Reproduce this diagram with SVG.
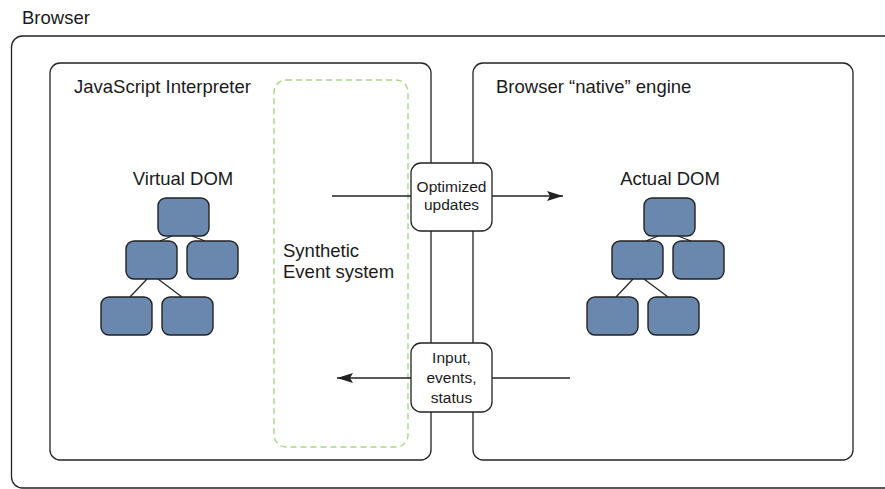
<svg xmlns="http://www.w3.org/2000/svg" width="885" height="489" viewBox="0 0 885 489">
<defs>
<style>
.box{fill:#fff;stroke:#222;stroke-width:1.3}
.dash{fill:none;stroke:#a6d785;stroke-width:1.4;stroke-dasharray:6 4}
.node{fill:#6a88ae;stroke:#222;stroke-width:1.4}
.edge{stroke:#222;stroke-width:1.2;fill:none}
.conn{stroke:#222;stroke-width:1.3;fill:none}
.t{font-family:"Liberation Sans",Arial,sans-serif;font-size:18.5px;fill:#1a1a1a}
.s{font-family:"Liberation Sans",Arial,sans-serif;font-size:15.5px;fill:#1a1a1a;text-anchor:middle}
</style>
<marker id="ah" viewBox="0 0 16 10" refX="16" refY="5" markerWidth="16" markerHeight="10" markerUnits="userSpaceOnUse" orient="auto">
<path d="M0,0 L16,5 L0,10 L3,5 Z" fill="#222"/>
</marker>
<g id="tree">
<path class="edge" d="M172,236 L160,241 M192,236 L205,241 M147,279 L130,297 M158,279 L182,297"/>
<rect class="node" x="158" y="198" width="51" height="38" rx="8"/>
<rect class="node" x="126" y="241" width="51" height="38" rx="8"/>
<rect class="node" x="187" y="241" width="51" height="38" rx="8"/>
<rect class="node" x="101" y="297" width="51" height="38" rx="8"/>
<rect class="node" x="162" y="297" width="51" height="38" rx="8"/>
</g>
</defs>
<rect width="885" height="489" fill="#fff"/>
<g id="browser">
<text class="t" x="22" y="24">Browser</text>
<rect class="box" x="11.5" y="36" width="900" height="452" rx="11" stroke="#333"/>
</g>
<g id="js-interpreter">
<rect class="box" x="50" y="63" width="381" height="397" rx="10"/>
<text class="t" x="74" y="93">JavaScript Interpreter</text>
</g>
<g id="native-engine">
<rect class="box" x="473" y="63" width="380" height="397" rx="10"/>
<text class="t" x="496" y="93">Browser “native” engine</text>
</g>
<g id="synthetic-events">
<rect class="dash" x="274" y="80" width="134" height="367" rx="12"/>
<text class="t" x="283" y="257">Synthetic</text>
<text class="t" x="283" y="278">Event system</text>
</g>
<g id="virtual-dom">
<text class="t" x="183" y="185" text-anchor="middle">Virtual DOM</text>
<use href="#tree"/>
</g>
<g id="actual-dom">
<text class="t" x="670" y="185" text-anchor="middle">Actual DOM</text>
<use href="#tree" transform="translate(486,0)"/>
</g>
<g id="connectors">
<line class="conn" x1="332" y1="196" x2="563" y2="196" marker-end="url(#ah)"/>
<line class="conn" x1="570" y1="378" x2="337" y2="378" marker-end="url(#ah)"/>
</g>
<g id="optimized-updates">
<rect class="box" x="411" y="163" width="81" height="68" rx="10"/>
<text class="s" x="451.5" y="192">Optimized</text>
<text class="s" x="451.5" y="210">updates</text>
</g>
<g id="input-events">
<rect class="box" x="411" y="343" width="81" height="69" rx="10"/>
<text class="s" x="451.5" y="363">Input,</text>
<text class="s" x="451.5" y="383">events,</text>
<text class="s" x="451.5" y="403">status</text>
</g>
</svg>
